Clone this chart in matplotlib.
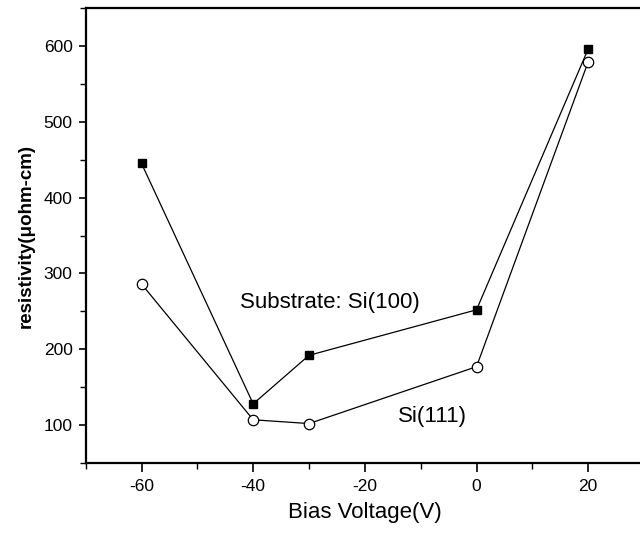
import matplotlib
matplotlib.use("Agg")
import matplotlib.pyplot as plt
from matplotlib.ticker import MultipleLocator

plt.rcParams['font.family'] = ['Liberation Sans', 'DejaVu Sans']
plt.rcParams['axes.unicode_minus'] = False

bias = [-60, -40, -30, 0, 20]
si100 = [445, 128, 192, 252, 596]
si111 = [286, 107, 102, 177, 579]
xticks = [-60, -40, -20, 0, 20]
yticks = [100, 200, 300, 400, 500, 600]

W, H = 640, 534
left, right, top, bottom = 85.7, 644, 8, 463
fig = plt.figure(figsize=(W / 100, H / 100), dpi=100)
ax = fig.add_axes([left / W, 1 - bottom / H, (right - left) / W, (bottom - top) / H])

ax.plot(bias, si100, '-', color='black', lw=0.9, marker='s', ms=6,
        mfc='black', mec='black')
ax.plot(bias, si111, '-', color='black', lw=0.9, marker='o', ms=7.5,
        mfc='white', mec='black', mew=0.9)

ax.set_xlim(-70, 30)
ax.set_ylim(50, 650)
ax.set_xticks(xticks)
ax.set_yticks(yticks)
ax.xaxis.set_minor_locator(MultipleLocator(10))
ax.yaxis.set_minor_locator(MultipleLocator(50))
ax.tick_params(axis='x', which='major', direction='out', length=6.5, width=1.2,
               labelsize=12.5, pad=5)
ax.tick_params(axis='y', which='major', direction='out', length=5, width=1.2,
               labelsize=12.5, pad=4.5)
ax.tick_params(which='minor', direction='out', length=4, width=1.0)
for s in ['left', 'bottom', 'top', 'right']:
    ax.spines[s].set_linewidth(1.6)

ax.set_xlabel('Bias Voltage(V)', fontsize=16, labelpad=6)
ax.set_ylabel('resistivity(\u03bcohm-cm)', fontsize=13.5, fontweight='bold',
              labelpad=6)

ax.text(-42.3, 262, 'Substrate: Si(100)', fontsize=16, ha='left', va='center')
ax.text(-14.1, 111, 'Si(111)', fontsize=16, ha='left', va='center')

fig.savefig('out.png', dpi=100)
